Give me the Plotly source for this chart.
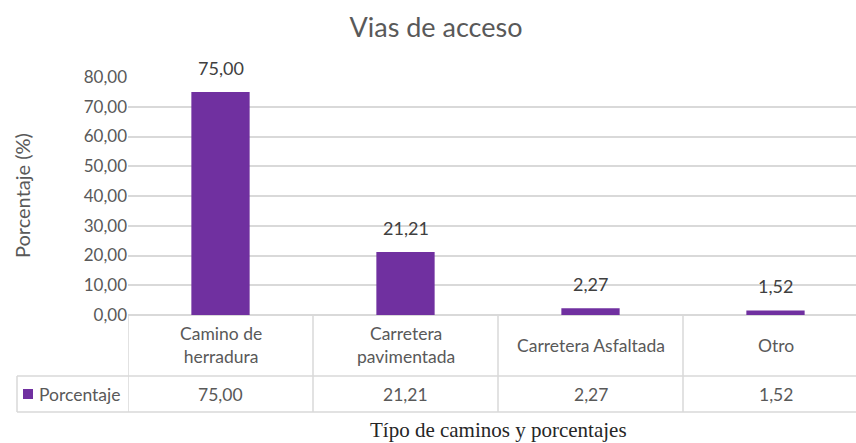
import plotly.graph_objects as go

# --- data ---
categories = ["Camino de<br>herradura", "Carretera<br>pavimentada", "Carretera Asfaltada", "Otro"]
porcentaje = [75.00, 21.21, 2.27, 1.52]
y_ticks = [0, 10, 20, 30, 40, 50, 60, 70, 80]

BAR = "#7030A0"
GRID = "#D9D9D9"
TXT = "#595959"
FONT = "Lato, Open Sans, sans-serif"

W, H = 856, 443
L, T, B = 128, 77, 128  # margins (px)
plot_w = W - L
plot_h = H - T - B


def px_x(x):
    return (x - L) / plot_w


def px_y(y):
    return (H - B - y) / plot_h


def fmt(v):
    return f"{v:.2f}".replace(".", ",")


xs = list(range(len(categories)))

fig = go.Figure()
fig.add_trace(
    go.Bar(
        x=xs,
        y=porcentaje,
        marker=dict(color=BAR, line=dict(width=0)),
        width=0.315,
        showlegend=False,
    )
)

# --- data table under the axis ---
row1 = px_y(376)
row2 = px_y(412)
left = px_x(17)
shapes = []
for b in [-0.5 + i for i in range(len(categories) + 1)]:
    shapes.append(dict(type="line", xref="x", yref="paper", x0=b, x1=b, y0=0, y1=row2,
                       line=dict(color=GRID, width=1.5)))
shapes.append(dict(type="line", xref="paper", yref="paper", x0=left, x1=1, y0=row1, y1=row1,
                   line=dict(color=GRID, width=1.5)))
shapes.append(dict(type="line", xref="paper", yref="paper", x0=left, x1=1, y0=row2, y1=row2,
                   line=dict(color=GRID, width=1.5)))
shapes.append(dict(type="line", xref="paper", yref="paper", x0=left, x1=left, y0=row1, y1=row2,
                   line=dict(color=GRID, width=1.5)))
# legend key
shapes.append(dict(type="rect", xref="paper", yref="paper", x0=px_x(23), x1=px_x(33),
                   y0=px_y(399), y1=px_y(389), fillcolor=BAR, line=dict(width=0)))

annotations = []
for x, c, v in zip(xs, categories, porcentaje):
    # value label above the bar
    annotations.append(dict(x=x, y=v, xref="x", yref="y", text=fmt(v), showarrow=False,
                            yanchor="bottom", yshift=11,
                            font=dict(family=FONT, size=18, color="#404040")))
    annotations.append(dict(x=x, y=px_y(345), xref="x", yref="paper", text=c, showarrow=False,
                            font=dict(family=FONT, size=17.5, color=TXT), yanchor="middle"))
    annotations.append(dict(x=x, y=px_y(394), xref="x", yref="paper", text=fmt(v), showarrow=False,
                            font=dict(family=FONT, size=17.5, color=TXT), yanchor="middle"))
annotations.append(dict(x=px_x(37), y=px_y(394), xref="paper", yref="paper", text="Porcentaje",
                        showarrow=False, xanchor="left", yanchor="middle",
                        font=dict(family=FONT, size=17.5, color=TXT)))
annotations.append(dict(x=px_x(498), y=px_y(430), xref="paper", yref="paper",
                        text="Típo de caminos y porcentajes", showarrow=False, yanchor="middle",
                        font=dict(family="Liberation Serif, serif", size=21, color="#262626")))
annotations.append(dict(x=px_x(22), y=px_y(195), xref="paper", yref="paper", text="Porcentaje (%)",
                        textangle=-90, showarrow=False, xanchor="center", yanchor="middle",
                        font=dict(family=FONT, size=20, color=TXT)))

fig.update_layout(
    width=W,
    height=H,
    margin=dict(l=L, r=0, t=T, b=B),
    paper_bgcolor="white",
    plot_bgcolor="white",
    separators=",.",
    title=dict(text="Vias de acceso", x=436 / W, xanchor="center", y=1 - 28 / H, yanchor="middle",
               font=dict(family=FONT, size=27, color=TXT)),
    xaxis=dict(range=[-0.5, -0.5 + plot_w / 185], showticklabels=False, showgrid=False,
               zeroline=False, showline=False, fixedrange=True),
    yaxis=dict(range=[0, 80], tickvals=y_ticks, tickformat=".2f", showgrid=True, gridcolor=GRID,
               gridwidth=1.5, zeroline=True, zerolinecolor=GRID, zerolinewidth=1.5,
               ticks="", ticklen=0, tickfont=dict(family=FONT, size=17, color=TXT)),
    shapes=shapes,
    annotations=annotations,
)

# page body has a default 8px margin; drop it so the figure fills the window
fig.write_html("out.html", config={"displayModeBar": False},
               post_script="document.body.style.margin='0';")
